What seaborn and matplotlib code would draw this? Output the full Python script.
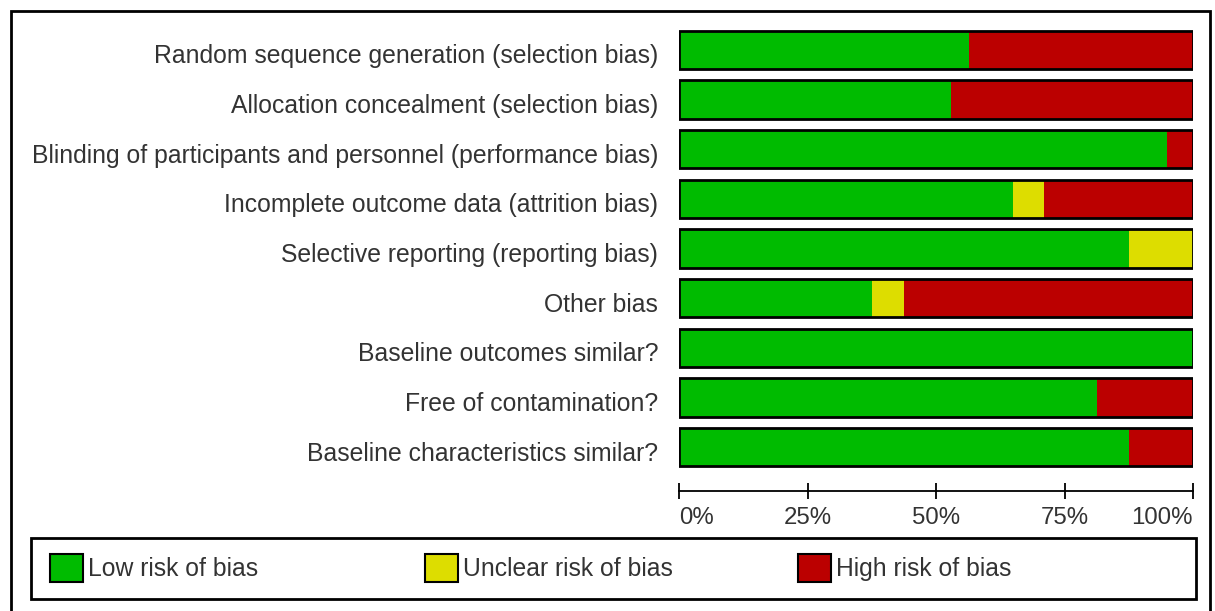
import matplotlib
matplotlib.use('Agg')
import matplotlib.pyplot as plt
import matplotlib.patches as mpatches
import matplotlib.transforms as mtransforms
import pandas as pd
import seaborn as sns

# Risk of bias summary (percentage of studies per judgement)
domains = [
    'Random sequence generation (selection bias)',
    'Allocation concealment (selection bias)',
    'Blinding of participants and personnel (performance bias)',
    'Incomplete outcome data (attrition bias)',
    'Selective reporting (reporting bias)',
    'Other bias',
    'Baseline outcomes similar?',
    'Free of contamination?',
    'Baseline characteristics similar?',
]
low = [56.5, 53.0, 95.0, 65.0, 87.5, 37.5, 100.0, 81.25, 87.5]
unclear = [0.0, 0.0, 0.0, 6.0, 12.5, 6.25, 0.0, 0.0, 0.0]
high = [43.5, 47.0, 5.0, 29.0, 0.0, 56.25, 0.0, 18.75, 12.5]
tick_values = [0, 25, 50, 75, 100]
tick_labels = ['0%', '25%', '50%', '75%', '100%']
legend_labels = ['Low risk of bias', 'Unclear risk of bias', 'High risk of bias']

GREEN = '#00bb00'
YELLOW = '#dddd00'
RED = '#bb0000'
TEXT = '#333333'
FS = 17.8

df = pd.DataFrame({'domain': domains, 'low': low, 'unclear': unclear, 'high': high})
df['low_unclear'] = df['low'] + df['unclear']
df['total'] = df['low_unclear'] + df['high']

sns.set_theme(style='white')
plt.rcParams['font.family'] = ['Liberation Sans', 'DejaVu Sans']

W, H = 1215, 611
fig = plt.figure(figsize=(W / 100, H / 100), dpi=100)
ax = fig.add_axes([679 / W, 1 - 472 / H, (1193 - 679) / W, (472 - 25) / H])

bw = 0.77
# stacked bars: draw cumulative totals back to front
sns.barplot(data=df, x='total', y='domain', color=RED, width=bw, linewidth=0,
            saturation=1, ax=ax)
sns.barplot(data=df, x='low_unclear', y='domain', color=YELLOW, width=bw, linewidth=0,
            saturation=1, ax=ax)
sns.barplot(data=df, x='low', y='domain', color=GREEN, width=bw, linewidth=0,
            saturation=1, ax=ax)
# black outline around each full bar
sns.barplot(data=df, x='total', y='domain', color='black', width=bw, fill=False,
            linewidth=2, saturation=1, ax=ax)

ax.set_xlim(0, 100)
ax.set_xlabel('')
ax.set_ylabel('')
for side in ['top', 'right', 'left']:
    ax.spines[side].set_visible(False)
ax.spines['bottom'].set_position(('outward', 14))
ax.spines['bottom'].set_color('black')
ax.spines['bottom'].set_linewidth(1.3)

ax.set_xticks(tick_values)
ax.set_xticklabels(tick_labels, fontsize=FS - 0.5, color=TEXT)
ax.get_xticklabels()[0].set_horizontalalignment('left')
ax.get_xticklabels()[-1].set_horizontalalignment('right')
ax.tick_params(axis='x', direction='inout', length=12, width=1.3, color='black', pad=5,
               bottom=True)
ax.tick_params(axis='y', length=0, pad=15, labelsize=FS, labelcolor=TEXT)
# labels sit slightly below bar centres in the original
shift = mtransforms.ScaledTranslation(0, -4 / 100, fig.dpi_scale_trans)
for lab in ax.get_yticklabels():
    lab.set_transform(lab.get_transform() + shift)

# legend box with three evenly spaced entries
fig.patches.append(mpatches.Rectangle((31 / W, 1 - 599 / H), (1196 - 31) / W, 61 / H,
                                      transform=fig.transFigure, fill=False,
                                      edgecolor='black', linewidth=2))
for x0, c, lab in zip([50, 425, 798], [GREEN, YELLOW, RED], legend_labels):
    h = mpatches.Patch(facecolor=c, edgecolor='black', linewidth=1.5)
    leg = fig.legend([h], [lab], loc='center left',
                     bbox_to_anchor=(x0 / W, 1 - 568 / H), fontsize=FS,
                     frameon=False, borderpad=0, borderaxespad=0,
                     handlelength=1.32, handleheight=1.4, handletextpad=0.2,
                     labelcolor=TEXT)

# outer frame around the whole figure
fig.patches.append(mpatches.Rectangle((11 / W, -0.05), (1210 - 11) / W, 1.05 - 11 / H,
                                      transform=fig.transFigure, fill=False,
                                      edgecolor='black', linewidth=2))

fig.savefig('out.png', dpi=100)
